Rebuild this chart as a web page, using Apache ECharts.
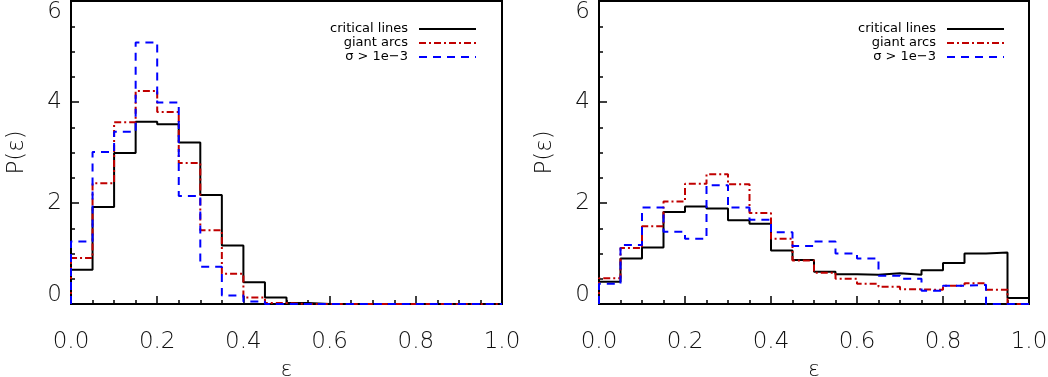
<!DOCTYPE html>
<html>
<head>
<meta charset="utf-8">
<script src="https://cdn.jsdelivr.net/npm/echarts@6/dist/echarts.min.js"></script>
<style>
  html, body { margin: 0; padding: 0; background: #fff; }
  #chart { width: 1048px; height: 377px; }
</style>
</head>
<body>
<div id="chart"></div>
<script>
// left edges of the histogram bins (width 0.05)
var binEdges = [0.00, 0.05, 0.10, 0.15, 0.20, 0.25, 0.30, 0.35, 0.40, 0.45,
                0.50, 0.55, 0.60, 0.65, 0.70, 0.75, 0.80, 0.85, 0.90, 0.95];
var binEnd = 1.0;

var seriesNames = ['critical lines', 'giant arcs', '\u03c3 > 1e\u22123'];

// left panel
var leftCritical = [0.68, 1.92, 2.99, 3.61, 3.56, 3.20, 2.16, 1.16, 0.43, 0.13,
                    0.02, 0, 0, 0, 0, 0, 0, 0, 0, 0];
var leftArcs     = [0.91, 2.39, 3.60, 4.22, 3.80, 2.79, 1.46, 0.60, 0.13, 0.02,
                    0, 0, 0, 0, 0, 0, 0, 0, 0, 0];
var leftSigma    = [1.24, 3.01, 3.41, 5.18, 3.99, 2.14, 0.74, 0.17, 0.05, 0,
                    0, 0, 0, 0, 0, 0, 0, 0, 0, 0];

// right panel
var rightCritical = [0.44, 0.90, 1.12, 1.82, 1.93, 1.89, 1.66, 1.59, 1.06, 0.87,
                     0.64, 0.59, 0.58, 0.61, 0.58, 0.67, 0.81, 1.00, 1.02, 0.12];
var rightArcs     = [0.51, 1.11, 1.54, 2.03, 2.38, 2.57, 2.37, 1.80, 1.29, 0.86,
                     0.62, 0.50, 0.40, 0.34, 0.29, 0.28, 0.36, 0.41, 0.28, 0];
var rightSigma    = [0.40, 1.17, 1.91, 1.43, 1.29, 2.35, 1.91, 1.67, 1.42, 1.15,
                     1.24, 1.00, 0.90, 0.56, 0.50, 0.26, 0.36, 0.38, 0, 0];

var xTicks = [0, 1, 0.2];   // min, max, interval
var yTicks = [0, 6, 2];

var lineStyles = [
    {color: '#000000', width: 2, type: 'solid'},
    {color: '#c00000', width: 2, type: [7, 3, 2, 3]},
    {color: '#0000ff', width: 2, type: [8, 6]}
];

function stepData(values) {
    var pts = [[binEdges[0], 0]];
    for (var i = 0; i < binEdges.length; i++) {
        pts.push([binEdges[i], values[i]]);
    }
    pts.push([binEnd, values[values.length - 1]]);
    return pts;
}

var font = 'DejaVu Sans';

function tickParts() {
    return {
        axisLine: {show: true, onZero: false, lineStyle: {color: '#000', width: 2}},
        axisTick: {show: true, inside: true, length: 8, lineStyle: {color: '#000', width: 1.5}},
        minorTick: {show: true, splitNumber: 4, length: 4, lineStyle: {color: '#000', width: 1.5}},
        splitLine: {show: false},
        minorSplitLine: {show: false}
    };
}

function xAxisFor(gridIndex) {
    return Object.assign({
        type: 'value', gridIndex: gridIndex, position: 'bottom',
        min: xTicks[0], max: xTicks[1], interval: xTicks[2],
        name: '\u03b5', nameLocation: 'middle', nameGap: 53,
        nameTextStyle: {fontFamily: font, fontSize: 22, color: '#111', fontWeight: 200},
        axisLabel: {margin: 27, fontFamily: font, fontSize: 23, color: '#111',
            fontWeight: 200,
            formatter: function (v) { return v.toFixed(1); }}
    }, tickParts());
}

function yAxisFor(gridIndex) {
    return Object.assign({
        type: 'value', gridIndex: gridIndex, position: 'left',
        min: yTicks[0], max: yTicks[1], interval: yTicks[2],
        name: 'P(\u03b5)', nameLocation: 'middle', nameGap: 42, nameRotate: 90,
        nameTextStyle: {fontFamily: font, fontSize: 23, color: '#111', fontWeight: 200},
        axisLabel: {margin: 9, fontFamily: font, fontSize: 23, color: '#111',
            fontWeight: 200,
            verticalAlignMaxLabel: 'top',
            formatter: function (v) { return v === 0 ? '{lo|0}' : String(v); },
            rich: {lo: {fontFamily: font, fontSize: 23, color: '#111', fontWeight: 200,
                        padding: [0, 0, 18, 0]}}}
    }, tickParts());
}

var panels = [
    [leftCritical, leftArcs, leftSigma],
    [rightCritical, rightArcs, rightSigma]
];

var series = [];
panels.forEach(function (sets, p) {
    sets.forEach(function (vals, k) {
        series.push({
            name: seriesNames[k],
            type: 'line',
            step: 'end',
            xAxisIndex: p,
            yAxisIndex: p,
            symbol: 'none',
            animation: false,
            lineStyle: lineStyles[k],
            itemStyle: {color: lineStyles[k].color},
            data: stepData(vals),
            z: 2 + k
        });
    });
});

function legendFor(right) {
    return {
        data: seriesNames,
        orient: 'vertical',
        align: 'right',
        right: right,
        top: 22,
        padding: 0,
        itemGap: 0,
        itemWidth: 57,
        itemHeight: 10,
        selectedMode: false,
        itemStyle: {opacity: 0},
        textStyle: {fontFamily: font, fontSize: 13, lineHeight: 14, color: '#000',
            padding: [0, 6, 0, 0]}
    };
}

function gridFor(left, width) {
    return {left: left, top: 1, width: width, height: 303,
        show: true, borderColor: '#000', borderWidth: 2, backgroundColor: 'transparent',
        containLabel: false, outerBoundsMode: 'none'};
}

var myChart = echarts.init(document.getElementById('chart'), null, {renderer: 'canvas'});
var option = {
    backgroundColor: '#fff',
    animation: false,
    grid: [gridFor(71, 431), gridFor(599, 430)],
    legend: [legendFor(571), legendFor(43)],
    xAxis: [xAxisFor(0), xAxisFor(1)],
    yAxis: [yAxisFor(0), yAxisFor(1)],
    series: series
};
myChart.setOption(option);
</script>
</body>
</html>
